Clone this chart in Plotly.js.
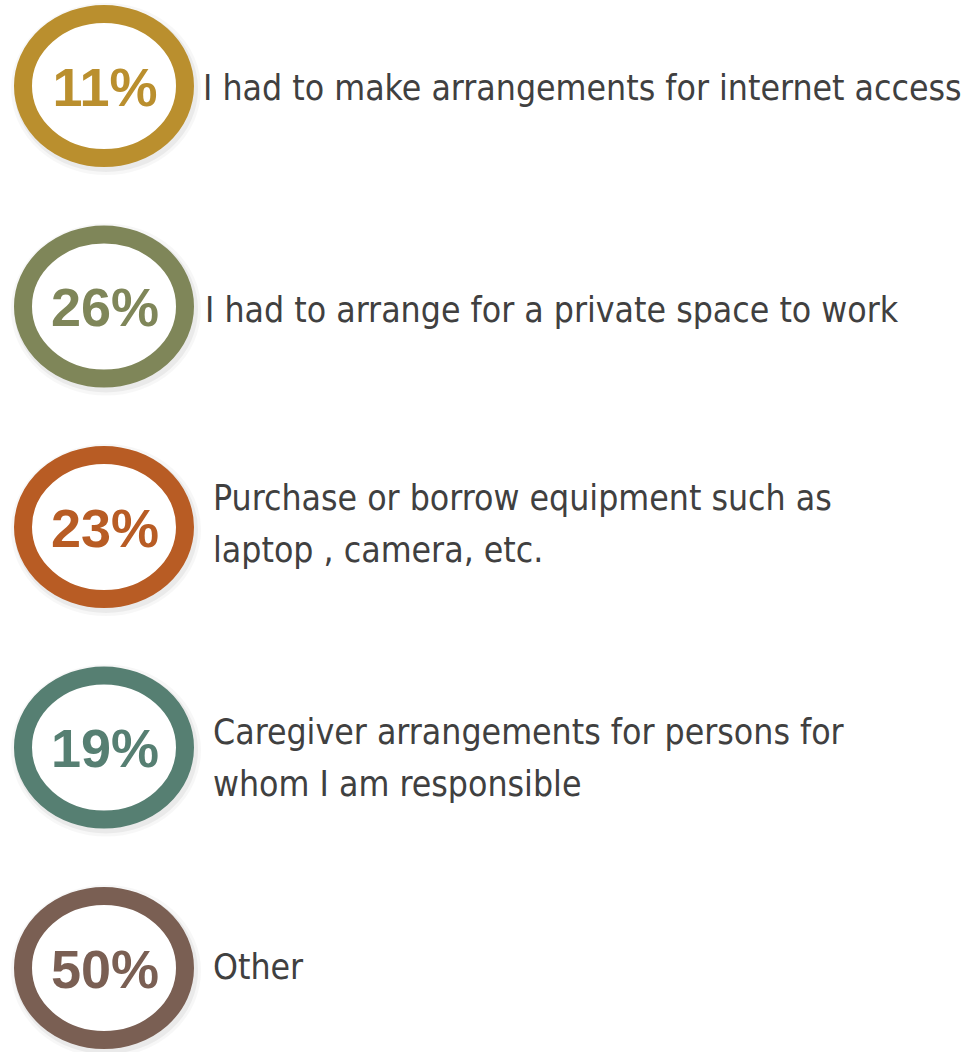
<!DOCTYPE html>
<html>
<head>
<meta charset="utf-8">
<script src="https://cdn.plot.ly/plotly-3.0.1.min.js"></script>
<style>html,body{margin:0;padding:0;background:#fff;}#chart{width:967px;height:1052px;}</style>
</head>
<body>
<div id="chart"></div>
<script>
// ---- data ----
const percentages = [11, 26, 23, 19, 50];
const labels = [
  "I had to make arrangements for internet access",
  "I had to arrange for a private space to work",
  "Purchase or borrow equipment such as<br>laptop , camera, etc.",
  "Caregiver arrangements for persons for<br>whom I am responsible",
  "Other"
];
const colors = ["#BA8F2E", "#7F8659", "#B85C24", "#567F72", "#7A5F53"];

// ---- layout constants (pixel-based axes) ----
const W = 967, H = 1052;
const CX = 104, CY0 = 86, STEP = 220.5;
const RX = 81, RY = 72, RING_W = 18;
const LABEL_X = [203, 205, 213, 213, 213];
const LABEL_DY = [5, 7, 0, 14, 2];
const LINE_GAP = 52;

const cy = i => CY0 + i * STEP;

const shapes = [];
percentages.forEach((p, i) => {
  // soft shadow
  [[28, 0.03], [22, 0.05]].forEach(([w, a]) => {
    shapes.push({type: 'circle', xref: 'x', yref: 'y', layer: 'below',
      x0: CX - RX + 2, x1: CX + RX + 2, y0: cy(i) - RY + 3, y1: cy(i) + RY + 3,
      line: {color: `rgba(0,0,0,${a})`, width: w}, fillcolor: 'rgba(0,0,0,0)'});
  });
  shapes.push({type: 'circle', xref: 'x', yref: 'y', layer: 'below',
    x0: CX - RX, x1: CX + RX, y0: cy(i) - RY, y1: cy(i) + RY,
    line: {color: colors[i], width: RING_W}, fillcolor: '#ffffff'});
});

// percentage text trace
const pctTrace = {
  type: 'scatter', mode: 'text',
  x: percentages.map(() => CX + 1),
  y: percentages.map((p, i) => cy(i) + 6),
  text: percentages.map(p => p + '%'),
  textposition: 'middle center',
  textfont: {family: 'Liberation Sans, Arial, sans-serif', size: 54, color: colors, weight: 'bold'},
  hoverinfo: 'skip', showlegend: false
};

// label lines
const lx = [], ly = [], lt = [];
labels.forEach((lab, i) => {
  const lines = lab.split('<br>');
  lines.forEach((ln, k) => {
    lx.push(LABEL_X[i]);
    ly.push(cy(i) + LABEL_DY[i] + (k - (lines.length - 1) / 2) * LINE_GAP);
    lt.push(ln);
  });
});
const labelTrace = {
  type: 'scatter', mode: 'text',
  x: lx, y: ly, text: lt,
  textposition: 'middle right',
  textfont: {family: 'DejaVu Sans Condensed, DejaVu Sans, sans-serif', size: 35.3, color: '#404040'},
  hoverinfo: 'skip', showlegend: false
};

const layout = {
  width: W, height: H,
  margin: {l: 0, r: 0, t: 0, b: 0},
  paper_bgcolor: '#ffffff', plot_bgcolor: '#ffffff',
  xaxis: {range: [0, W], visible: false, fixedrange: true},
  yaxis: {range: [H, 0], visible: false, fixedrange: true},
  shapes: shapes,
  showlegend: false
};

Plotly.newPlot('chart', [pctTrace, labelTrace], layout, {displayModeBar: false, staticPlot: true});
</script>
</body>
</html>
